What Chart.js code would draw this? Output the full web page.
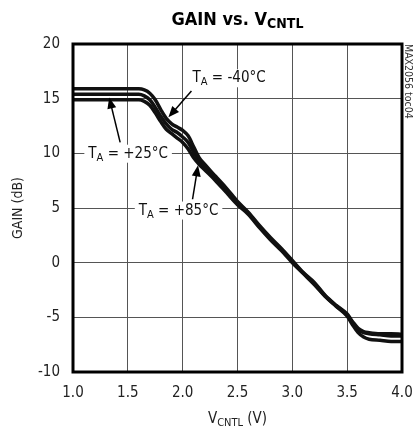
<!DOCTYPE html>
<html>
<head>
<meta charset="utf-8">
<script src="https://cdn.jsdelivr.net/npm/chart.js@4.4.1/dist/chart.umd.min.js"></script>
<style>
  html, body { margin: 0; padding: 0; background: #fff; }
  #wrap { width: 415px; height: 435px; }
</style>
</head>
<body>
<div id="wrap"><canvas id="gainChart" width="415" height="435"></canvas></div>
<script>
// control voltage (V)
const vcntl = [1.0, 1.2, 1.4, 1.5, 1.6, 1.65, 1.7, 1.75, 1.8, 1.85, 1.9, 1.95, 2.0, 2.05, 2.1, 2.15, 2.2,
  2.3, 2.4, 2.5, 2.6, 2.7, 2.8, 2.9, 3.0, 3.1, 3.2, 3.3, 3.4, 3.5, 3.55, 3.6, 3.65, 3.7, 3.8, 3.9, 4.0];

// gain (dB) per temperature
const gainM40 = [15.9, 15.9, 15.9, 15.9, 15.9, 15.8, 15.5, 14.9, 14.0, 13.2, 12.7, 12.4, 12.1, 11.6, 10.6, 9.6, 9.0,
  7.9, 6.8, 5.6, 4.6, 3.4, 2.3, 1.3, 0.2, -0.9, -1.8, -3.0, -3.9, -4.7, -5.4, -6.0, -6.3, -6.4, -6.5, -6.5, -6.55];
const gainP25 = [15.4, 15.4, 15.4, 15.4, 15.4, 15.25, 14.9, 14.2, 13.4, 12.7, 12.2, 11.9, 11.5, 11.0, 10.1, 9.3, 8.8,
  7.7, 6.6, 5.5, 4.5, 3.3, 2.2, 1.2, 0.1, -0.95, -1.9, -3.05, -3.95, -4.8, -5.5, -6.1, -6.4, -6.5, -6.6, -6.7, -6.7];
const gainP85 = [14.9, 14.9, 14.9, 14.9, 14.9, 14.75, 14.4, 13.7, 12.9, 12.2, 11.8, 11.4, 11.0, 10.4, 9.6, 9.0, 8.5,
  7.5, 6.4, 5.3, 4.4, 3.2, 2.1, 1.1, 0.0, -1.0, -2.0, -3.1, -4.0, -4.9, -5.7, -6.4, -6.8, -7.0, -7.1, -7.2, -7.2];

const xTicks = [1.0, 1.5, 2.0, 2.5, 3.0, 3.5, 4.0];
const yTicks = [-10, -5, 0, 5, 10, 15, 20];

const FONT = '"Liberation Sans Narrow", "DejaVu Sans Condensed", "Liberation Sans", sans-serif';

function toPoints(ys) {
  return vcntl.map((x, i) => ({ x: x, y: ys[i] }));
}

function drawArrow(ctx, x1, y1, x2, y2) {
  const ang = Math.atan2(y2 - y1, x2 - x1);
  const len = 11, half = 4.5;
  ctx.beginPath();
  ctx.moveTo(x1, y1);
  ctx.lineTo(x2 - Math.cos(ang) * len * 0.8, y2 - Math.sin(ang) * len * 0.8);
  ctx.lineWidth = 1.5;
  ctx.strokeStyle = "#000";
  ctx.stroke();
  ctx.beginPath();
  ctx.moveTo(x2, y2);
  ctx.lineTo(x2 - Math.cos(ang) * len + Math.sin(ang) * half, y2 - Math.sin(ang) * len - Math.cos(ang) * half);
  ctx.lineTo(x2 - Math.cos(ang) * len - Math.sin(ang) * half, y2 - Math.sin(ang) * len + Math.cos(ang) * half);
  ctx.closePath();
  ctx.fillStyle = "#000";
  ctx.fill();
}

// draw "T" + sub "A" + rest, returns width
function drawTA(ctx, x, y, rest, bg) {
  ctx.font = "15px " + FONT;
  const wT = ctx.measureText("T").width;
  ctx.font = "11px " + FONT;
  const wA = ctx.measureText("A").width;
  ctx.font = "15px " + FONT;
  const wR = ctx.measureText(rest).width;
  const w = wT + wA + wR;
  if (bg) {
    ctx.fillStyle = "#fff";
    ctx.fillRect(x - 4, y - 13, w + 8, 18);
  }
  ctx.fillStyle = "#111";
  ctx.textAlign = "left";
  ctx.textBaseline = "alphabetic";
  ctx.font = "15px " + FONT;
  ctx.fillText("T", x, y);
  ctx.font = "11px " + FONT;
  ctx.fillText("A", x + wT, y + 3);
  ctx.font = "15px " + FONT;
  ctx.fillText(rest, x + wT + wA, y);
  return w;
}

const decorations = {
  id: "decorations",
  afterDraw(chart) {
    const ctx = chart.ctx;
    const a = chart.chartArea;
    ctx.save();

    // thick frame
    ctx.lineWidth = 3;
    ctx.strokeStyle = "#000";
    ctx.strokeRect(a.left, a.top, a.right - a.left, a.bottom - a.top);

    // title
    const cx = (a.left + a.right) / 2;
    ctx.fillStyle = "#000";
    ctx.textBaseline = "alphabetic";
    ctx.font = "bold 18px " + FONT;
    const t1 = "GAIN vs. V";
    const w1 = ctx.measureText(t1).width;
    ctx.font = "bold 14px " + FONT;
    const w2 = ctx.measureText("CNTL").width;
    let sx = cx - (w1 + w2) / 2;
    ctx.textAlign = "left";
    ctx.font = "bold 18px " + FONT;
    ctx.fillText(t1, sx, 25);
    ctx.font = "bold 14px " + FONT;
    ctx.fillText("CNTL", sx + w1, 28);

    // x axis title
    ctx.fillStyle = "#222";
    ctx.font = "15px " + FONT;
    const x1 = ctx.measureText("V").width;
    ctx.font = "11px " + FONT;
    const x2 = ctx.measureText("CNTL").width;
    ctx.font = "15px " + FONT;
    const x3 = ctx.measureText(" (V)").width;
    sx = cx - (x1 + x2 + x3) / 2;
    ctx.fillText("V", sx, 423);
    ctx.font = "11px " + FONT;
    ctx.fillText("CNTL", sx + x1, 426);
    ctx.font = "15px " + FONT;
    ctx.fillText(" (V)", sx + x1 + x2, 423);

    // y axis title
    ctx.save();
    ctx.translate(22, (a.top + a.bottom) / 2);
    ctx.rotate(-Math.PI / 2);
    ctx.textAlign = "center";
    ctx.font = "14px " + FONT;
    ctx.fillText("GAIN (dB)", 0, 0);
    ctx.restore();

    // side code
    ctx.save();
    ctx.translate(408, a.top);
    ctx.rotate(Math.PI / 2);
    ctx.textAlign = "left";
    ctx.font = "10.5px " + FONT;
    ctx.fillStyle = "#333";
    ctx.fillText("MAX2056 toc04", 0, 3.5);
    ctx.restore();

    // annotations
    const xs = chart.scales.x, ys = chart.scales.y;
    drawTA(ctx, xs.getPixelForValue(2.09), ys.getPixelForValue(16.5), " = -40°C", true);
    drawArrow(ctx, xs.getPixelForValue(2.08), ys.getPixelForValue(15.7), xs.getPixelForValue(1.87), ys.getPixelForValue(13.3));
    drawTA(ctx, xs.getPixelForValue(1.14), ys.getPixelForValue(9.6), " = +25°C", true);
    drawArrow(ctx, xs.getPixelForValue(1.43), ys.getPixelForValue(11.0), xs.getPixelForValue(1.33), ys.getPixelForValue(15.1));
    drawTA(ctx, xs.getPixelForValue(1.6), ys.getPixelForValue(4.4), " = +85°C", true);
    drawArrow(ctx, xs.getPixelForValue(2.09), ys.getPixelForValue(5.8), xs.getPixelForValue(2.14), ys.getPixelForValue(8.9));

    ctx.restore();
  }
};

const lineStyle = {
  borderColor: "#111",
  borderWidth: 3.5,
  pointRadius: 0,
  tension: 0.4,
  cubicInterpolationMode: "monotone",
  fill: false
};

new Chart(document.getElementById("gainChart").getContext("2d"), {
  type: "line",
  data: {
    datasets: [
      Object.assign({ label: "TA = -40°C", data: toPoints(gainM40) }, lineStyle),
      Object.assign({ label: "TA = +25°C", data: toPoints(gainP25) }, lineStyle),
      Object.assign({ label: "TA = +85°C", data: toPoints(gainP85) }, lineStyle)
    ]
  },
  options: {
    responsive: false,
    animation: false,
    layout: { padding: { left: 0, top: 44, right: 13, bottom: 23 } },
    plugins: {
      legend: { display: false },
      tooltip: { enabled: false }
    },
    scales: {
      x: {
        type: "linear",
        min: 1,
        max: 4,
        afterFit: s => { s.height = 40; s.paddingLeft = 0; s.paddingRight = 0; },
        afterBuildTicks: s => { s.ticks = xTicks.map(v => ({ value: v })); },
        grid: { color: "#555", lineWidth: 1, drawTicks: false },
        border: { display: false },
        ticks: {
          padding: 12,
          color: "#222",
          font: { family: FONT, size: 15 },
          maxRotation: 0,
          callback: v => Number(v).toFixed(1)
        }
      },
      y: {
        min: -10,
        max: 20,
        afterFit: s => { s.width = 73; s.paddingTop = 0; s.paddingBottom = 0; },
        afterBuildTicks: s => { s.ticks = yTicks.map(v => ({ value: v })); },
        grid: { color: "#555", lineWidth: 1, drawTicks: false },
        border: { display: false },
        ticks: {
          padding: 13,
          color: "#222",
          font: { family: FONT, size: 15 }
        }
      }
    }
  },
  plugins: [decorations]
});
</script>
</body>
</html>
